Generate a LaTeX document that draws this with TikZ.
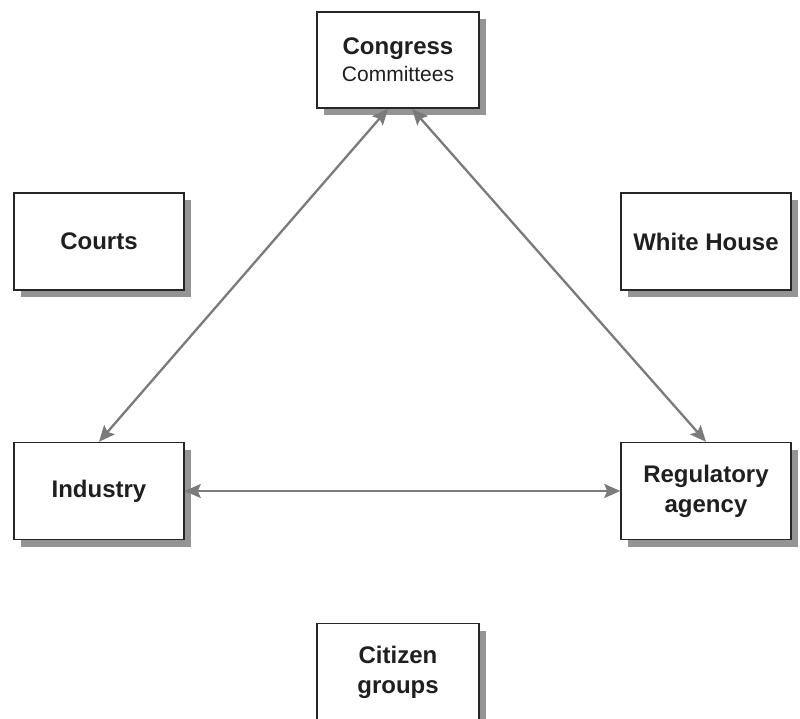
\documentclass[tikz,border=0pt]{standalone}
\usepackage{fontspec}
\setmainfont{Liberation Sans}
\usetikzlibrary{arrows.meta,shadows}
\begin{document}
\begin{tikzpicture}[x=0.5pt,y=-0.5pt,
  box/.style={draw=black!85, line width=0.75pt, fill=white, align=center,
    text=black!88, inner sep=0pt, minimum width=85pt, minimum height=48.5pt,
    font=\fontsize{12}{15}\selectfont\bfseries,
    drop shadow={shadow xshift=3.6pt, shadow yshift=-3.6pt, fill=black!42, opacity=1}},
  link/.style={draw=black!52, line width=1.15pt,
    {Stealth[length=8pt,width=7pt,inset=1.5pt]}-{Stealth[length=8pt,width=7pt,inset=1.5pt]}}]
\useasboundingbox (0,0) rectangle (800,719);
\begin{scope}
\clip (0,0) rectangle (800,719);
\node[box, minimum width=81pt, minimum height=48pt, font=\fontsize{12}{13.5}\selectfont\bfseries] (congress) at (398,60)
  {Congress\\{\fontsize{10.5}{13.5}\selectfont\mdseries Committees}};
\node[box] (courts) at (99,241.5) {Courts};
\node[box] (whitehouse) at (706,241.5) {White House};
\node[box] (industry) at (99,491) {Industry};
\node[box] (regulatory) at (706,491) {Regulatory\\agency};
\node[box, minimum width=81pt] (citizen) at (398,672) {Citizen\\groups};
\draw[link] ([xshift=-5pt]congress.south) -- (industry.north);
\draw[link] ([xshift=7pt]congress.south) -- (regulatory.north);
\draw[link] (industry.east) -- (regulatory.west);
\end{scope}
\end{tikzpicture}
\end{document}
